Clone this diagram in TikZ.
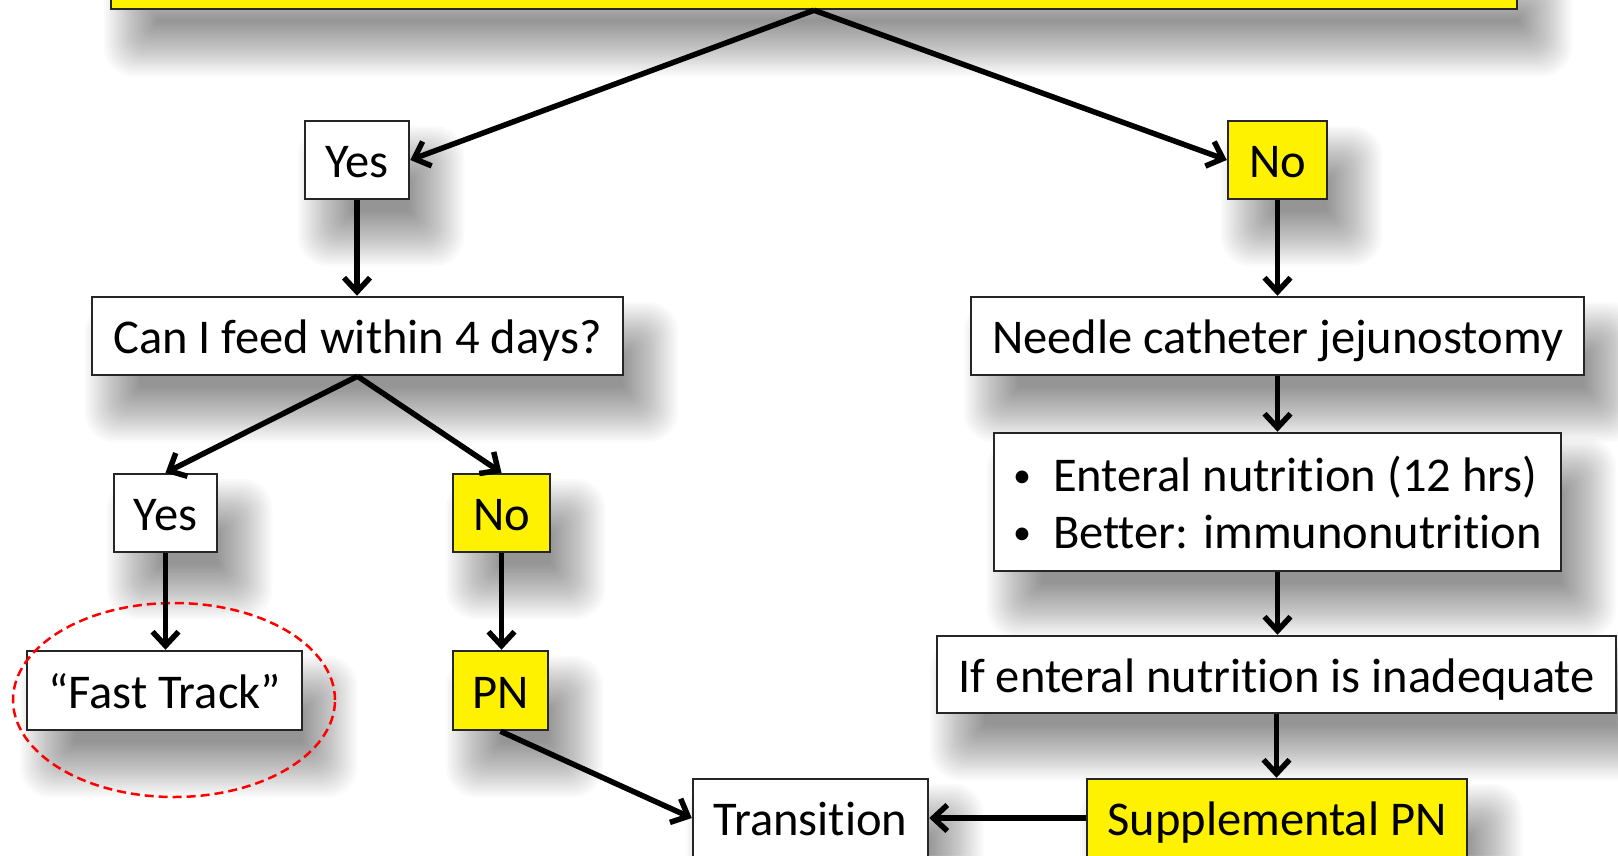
\documentclass[tikz,border=0pt]{standalone}
\usepackage{fontspec}
\setmainfont{Carlito}[Ligatures={NoCommon,NoRequired,NoContextual}]
\usetikzlibrary{arrows.meta,shapes.geometric,calc}
\pgfdeclarelayer{bg}
\pgfsetlayers{bg,main}
\newcommand{\bul}{\makebox[40pt][l]{\raisebox{4pt}{\fontsize{36}{36}\selectfont •}}}
\begin{document}
\begin{tikzpicture}[x=1pt,y=-1pt,
  boxbase/.style={draw=black!85, line width=2.5pt, fill=white, inner sep=0pt, align=center,
    font=\fontsize{48.5}{57}\selectfont},
  box/.style={boxbase, text height=35pt, text depth=0pt},
  ybox/.style={box, fill=yellow},
  arr/.style={line width=5.5pt, -{Straight Barb[length=14pt,width=26pt]}},
  ring/.style={draw=red, line width=2.5pt, dash pattern=on 9pt off 5pt}]
\useasboundingbox (0,0) rectangle (1618,855);
\clip (0,0) rectangle (1618,855);
\node[ybox, minimum width=1406pt, minimum height=49pt] (top) at (814,-15.5) {};
\node[box, minimum width=104pt, minimum height=78pt] (yes1) at (357,160) {Yes};
\node[ybox, minimum width=99pt, minimum height=78pt] (no1) at (1277.5,160) {No};
\node[box, minimum width=531pt, minimum height=78pt] (can) at (357.5,336) {Can I feed within 4 days?};
\node[box, minimum width=613pt, minimum height=78pt] (needle) at (1277.5,336) {Needle catheter jejunostomy};
\node[boxbase, minimum width=567pt, minimum height=138pt] (enteral) at (1277.5,502)
  {\begin{tabular}{@{}l@{}}\rule{0pt}{53pt}\bul Enteral nutrition (12 hrs)\\ \bul Better: immunonutrition\end{tabular}};
\node[box, minimum width=103pt, minimum height=78pt] (yes2) at (165.5,513) {Yes};
\node[ybox, minimum width=97pt, minimum height=78pt] (no2) at (501.5,513) {No};
\node[box, minimum width=275pt, minimum height=79pt] (fast) at (164.5,690.5) {“Fast Track”};
\node[ybox, minimum width=95pt, minimum height=79pt] (pn) at (500.5,690.5) {PN};
\node[box, minimum width=679pt, minimum height=77pt] (ifent) at (1276.5,674.5) {If enteral nutrition is inadequate};
\node[box, minimum width=235pt, minimum height=78pt] (trans) at (810.5,818) {Transition};
\node[ybox, minimum width=380pt, minimum height=78pt] (supp) at (1277,818) {Supplemental PN};
\node[ring, ellipse, minimum width=322pt, minimum height=194pt, inner sep=0pt] (ring) at (174,700) {};
\begin{pgfonlayer}{bg}
\fill[white] (0,0) rectangle (1618,855);
\foreach \n in {top,yes1,no1,can,needle,enteral,yes2,no2,fast,pn,ifent,trans,supp}{
  \foreach \i in {0,...,23}{
    \pgfmathsetmacro{\ins}{-30+\i*2.4}
    \pgfmathsetmacro{\rc}{max(30-\i*1.3,1)}
    \fill[black, opacity=0.02, rounded corners=\rc pt]
      ($(\n.north west)+(24+\ins,36+\ins)$) rectangle ($(\n.south east)+(24-\ins,36-\ins)$);
  }
}
\end{pgfonlayer}
\draw[arr] (top.south) -- (yes1.east);
\draw[arr] (top.south) -- (no1.west);
\draw[arr] (yes1.south) -- (yes1.south |- can.north);
\draw[arr] (no1.south) -- (no1.south |- needle.north);
\draw[arr] (can.south) -- (yes2.north);
\draw[arr] (can.south) -- (no2.north);
\draw[arr] (yes2.south) -- (yes2.south |- fast.north);
\draw[arr] (no2.south) -- (no2.south |- pn.north);
\draw[arr] (pn.south) -- (trans.west);
\draw[arr] (needle.south) -- (needle.south |- enteral.north);
\draw[arr] (enteral.south) -- (enteral.south |- ifent.north);
\draw[arr] (ifent.south) -- (ifent.south |- supp.north);
\draw[arr] (supp.west) -- (trans.east);
\end{tikzpicture}
\end{document}
